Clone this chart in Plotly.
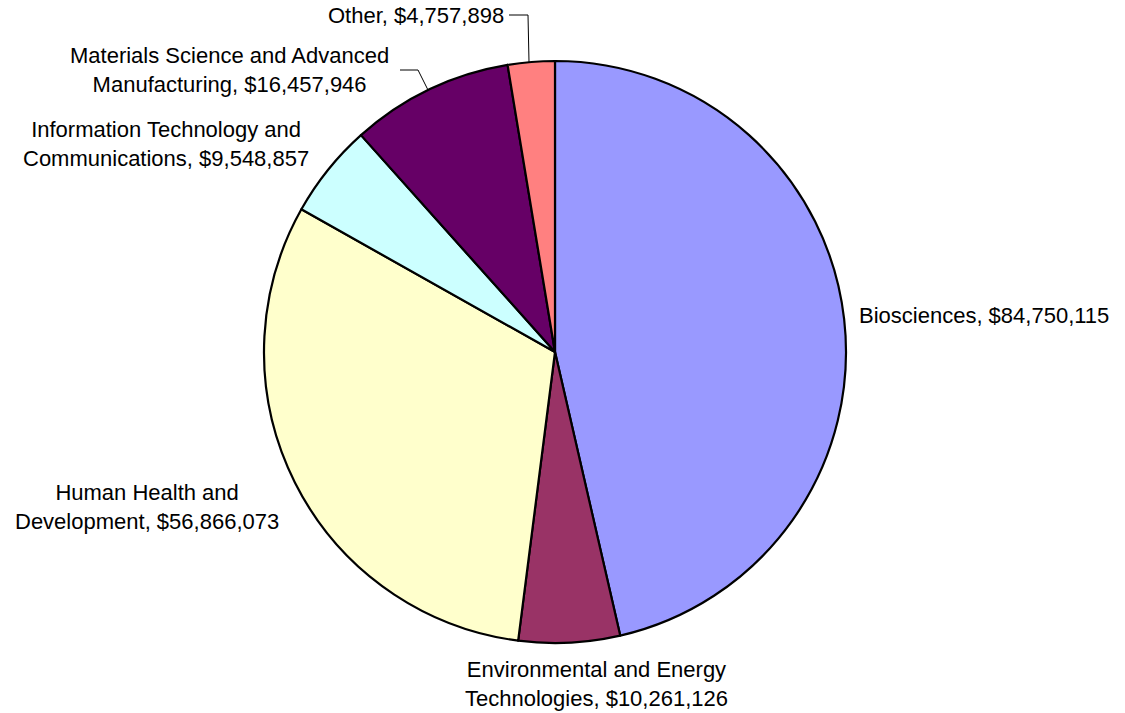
import plotly.graph_objects as go

# Research funding by technology area
categories = [
    "Biosciences",
    "Environmental and Energy Technologies",
    "Human Health and Development",
    "Information Technology and Communications",
    "Materials Science and Advanced Manufacturing",
    "Other",
]
amounts = [84750115, 10261126, 56866073, 9548857, 16457946, 4757898]
colors = ["#9999FF", "#993366", "#FFFFCC", "#CCFFFF", "#660066", "#FF8080"]

# Label text with line breaks as shown beside each slice
label_lines = [
    ["Biosciences, ${v}"],
    ["Environmental and Energy", "Technologies, ${v}"],
    ["Human Health and", "Development, ${v}"],
    ["Information Technology and", "Communications, ${v}"],
    ["Materials Science and Advanced", "Manufacturing, ${v}"],
    ["Other, ${v}"],
]

W, H = 1125, 713
L, R, T, B = 264, 279, 61, 70
PW, PH = W - L - R, H - T - B


def px(x):
    return (x - L) / PW


def py(y):
    return (H - B - y) / PH


# label anchor pixels (x, y, xanchor)
label_pos = [
    (857, 315, "left"),
    (596, 684, "center"),
    (147, 507, "center"),
    (166, 144, "center"),
    (229, 70, "center"),
    (506, 15, "right"),
]

fig = go.Figure(
    go.Pie(
        labels=categories,
        values=amounts,
        sort=False,
        direction="clockwise",
        rotation=0,
        marker=dict(colors=colors, line=dict(color="black", width=2.2)),
        textinfo="none",
        hoverinfo="label+value",
        showlegend=False,
    )
)

annotations = []
for lines, v, (x, y, anc) in zip(label_lines, amounts, label_pos):
    text = "<br>".join(s.replace("{v}", f"{v:,}") for s in lines)
    annotations.append(
        dict(
            x=px(x), y=py(y), xref="paper", yref="paper",
            text=text, showarrow=False, xanchor=anc, yanchor="middle",
            align="center", font=dict(family="Liberation Sans, Arial", size=22, color="black"),
        )
    )

# leader lines for the two small top slices
leaders = [
    [(509, 15), (528, 15), (529, 62)],
    [(400, 70), (418, 70), (428, 90)],
]
shapes = []
for pts in leaders:
    for (x0, y0), (x1, y1) in zip(pts[:-1], pts[1:]):
        shapes.append(
            dict(type="line", xref="paper", yref="paper",
                 x0=px(x0), y0=py(y0), x1=px(x1), y1=py(y1),
                 line=dict(color="black", width=1))
        )

fig.update_layout(
    width=W, height=H,
    margin=dict(l=L, r=R, t=T, b=B, pad=0),
    paper_bgcolor="white", plot_bgcolor="white",
    annotations=annotations, shapes=shapes,
)

fig.write_html("out.html")
